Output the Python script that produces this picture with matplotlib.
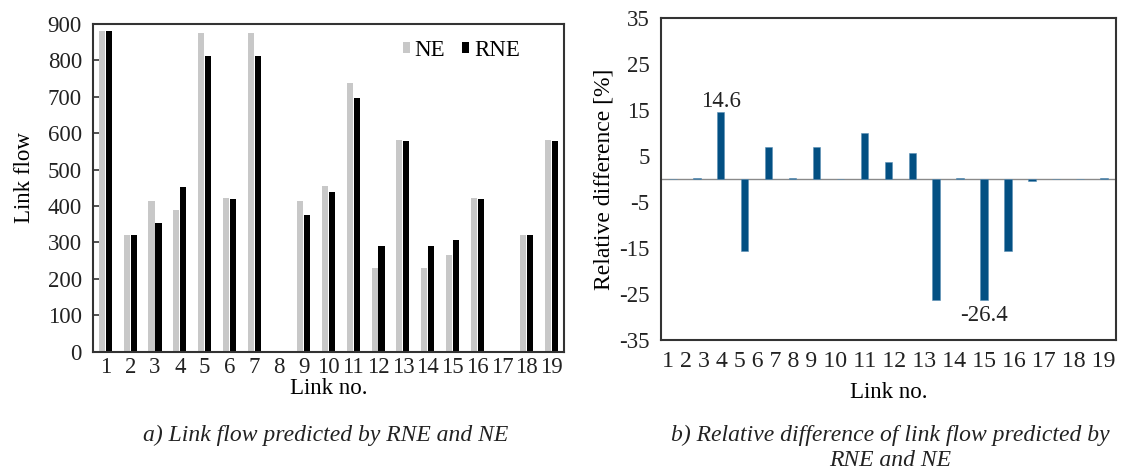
import matplotlib
matplotlib.use("Agg")
import matplotlib.pyplot as plt
import numpy as np

plt.rcParams['font.family'] = ['Liberation Serif', 'DejaVu Serif']
plt.rcParams['axes.unicode_minus'] = False

links = ["1", "2", "3", "4", "5", "6", "7", "8", "9", "10",
         "11", "12", "13", "14", "15", "16", "17", "18", "19"]
ne_flow = [882, 320, 413, 389, 874, 421, 874, 0, 414, 456,
           738, 229, 581, 229, 265, 421, 0, 320, 581]
rne_flow = [882, 320, 352, 451, 813, 419, 813, 0, 374, 438,
            696, 289, 579, 289, 306, 419, 0, 320, 579]
rel_diff = [0.0, 0.2, 14.6, -15.6, 6.9, 0.3, 6.9, 0.0, 10.1, 3.7,
            5.6, -26.2, 0.3, -26.4, -15.7, -0.5, 0.0, 0.0, 0.3]
left_yticks = [0, 100, 200, 300, 400, 500, 600, 700, 800, 900]
right_yticks = [-35, -25, -15, -5, 5, 15, 25, 35]
series_names = ["NE", "RNE"]
annot_idx = [2, 13]
annot_text = ["14.6", "-26.4"]
caption_a = "a) Link flow predicted by RNE and NE"
caption_b = "b) Relative difference of link flow predicted by\nRNE and NE"

FS = 16.5
SPINE = '#333333'
TXT = '#222222'

fig = plt.figure(figsize=(11.32, 4.75), dpi=100)
ax1 = fig.add_axes([0.0822, 0.26, 0.4160, 0.6895])
ax2 = fig.add_axes([0.5837, 0.2842, 0.4022, 0.6778])

x = np.arange(len(links))

# Left chart
ax1.bar(x - 0.14, ne_flow, width=0.25, color='#c8c8c8', label=series_names[0])
ax1.bar(x + 0.14, rne_flow, width=0.25, color='#000000', label=series_names[1])
ax1.set_xlim(-0.5, len(links) - 0.5)
ax1.set_ylim(0, 900)
ax1.set_yticks(left_yticks)
ax1.set_xticks(x)
ax1.set_xticklabels(links)
ax1.tick_params(axis='both', labelsize=FS, colors=SPINE, labelcolor=TXT)
ax1.tick_params(axis='x', length=0, pad=4)
ax1.tick_params(axis='y', direction='in', length=4, width=1.2, pad=8)
ax1.set_ylabel("Link flow", fontsize=FS, labelpad=9, y=0.53)
ax1.set_xlabel("Link no.", fontsize=FS, labelpad=0)
for s in ax1.spines.values():
    s.set_color(SPINE)
    s.set_linewidth(1.5)
ax1.legend(loc='upper right', ncol=2, frameon=False, fontsize=FS,
           handlelength=0.3, handleheight=0.35, handletextpad=0.2,
           columnspacing=0.75, bbox_to_anchor=(0.95, 1.015))

# Right chart
ax2.bar(x, rel_diff, width=0.32, color='#035083', edgecolor='#5b8fb5', linewidth=0.4)
ax2.axhline(0, color='#8a8a8a', lw=1.0, zorder=0)
ax2.set_xlim(-0.5, len(links) - 0.5)
ax2.set_ylim(-35, 35)
ax2.set_yticks(right_yticks)
ax2.set_xticks([])
ax2.tick_params(axis='both', length=0, labelsize=FS, colors=TXT)
ax2.tick_params(axis='y', pad=8)
ax2.set_ylabel("Relative difference [%]", fontsize=FS * 1.03, labelpad=3)
ax2.text(0.5, -0.035, " ".join(links), transform=ax2.transAxes,
         ha='center', va='top', fontsize=FS * 1.04, color=TXT)
ax2.set_xlabel("Link no.", fontsize=FS, labelpad=30)
for s in ax2.spines.values():
    s.set_color(SPINE)
    s.set_linewidth(1.5)
for i, t in zip(annot_idx, annot_text):
    v = rel_diff[i]
    if v >= 0:
        ax2.annotate(t, (x[i], v), xytext=(0, 0), textcoords='offset points',
                     ha='center', va='bottom', fontsize=FS, color=TXT)
    else:
        ax2.annotate(t, (x[i], v), xytext=(0, -3), textcoords='offset points',
                     ha='center', va='top', fontsize=FS, color=TXT)

# Captions
fig.text(326 / 1132, 1 - 435 / 475, caption_a, ha='center', va='center',
         fontsize=17, style='italic', color=TXT)
fig.text(890 / 1132, 1 - 448 / 475, caption_b, ha='center', va='center',
         fontsize=17, style='italic', color=TXT, linespacing=1.25)

fig.savefig("out.png", dpi=100)
